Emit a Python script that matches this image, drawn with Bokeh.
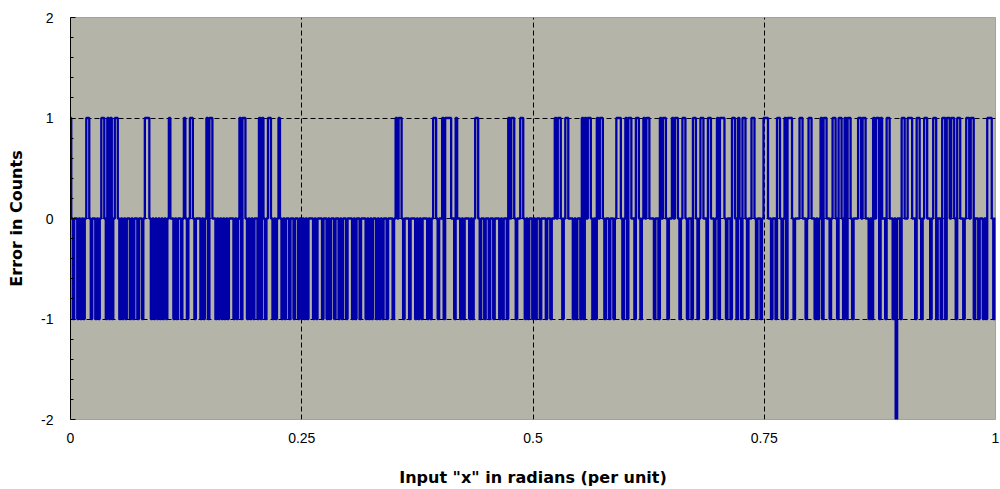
import numpy as np
from bokeh.plotting import figure
from bokeh.models import FixedTicker
from bokeh.embed import file_html
from bokeh.resources import INLINE

error_counts = [
    1, 0, -1, 0, 0, -1, 0, -1, 0, -1,
    0, 1, 1, 0, -1, 0, 0, -1, 0, -1,
    0, 1, 1, 0, -1, 1, -1, 1, -1, 0,
    1, 1, 0, -1, 0, -1, 0, -1, 0, 0,
    -1, 0, -1, 0, 0, -1, 0, 0, -1, 0,
    1, 1, 1, 0, -1, 0, -1, 0, -1, 0,
    -1, 0, -1, 0, -1, 0, 1, 0, 0, -1,
    0, -1, 0, 0, -1, 0, 1, 0, -1, 0,
    1, 1, 0, -1, 0, 0, 0, -1, 0, -1,
    0, 1, -1, 1, 1, 0, 0, -1, 0, -1,
    0, -1, 0, -1, 0, -1, 0, 0, 0, -1,
    0, -1, 0, 1, -1, 1, 1, 0, -1, 0,
    -1, 0, -1, 0, 0, -1, 1, -1, 1, 0,
    -1, 0, 1, 1, 0, -1, 0, -1, 0, 1,
    0, -1, 0, -1, 0, 0, -1, 0, 0, -1,
    0, 0, -1, 0, -1, 0, -1, 0, -1, 0,
    0, 0, -1, 0, -1, 0, 0, 0, -1, 0,
    0, -1, 0, -1, 0, 0, -1, 0, 0, -1,
    0, -1, 0, 0, -1, 0, 0, 0, -1, 0,
    -1, 0, 0, -1, 0, 0, 0, -1, 0, -1,
    0, -1, 0, 0, -1, 0, -1, 0, -1, 0,
    0, -1, 0, 0, 0, -1, 0, 1, 0, 1,
    1, 0, -1, 0, 0, 0, -1, 0, 0, 0,
    -1, 0, -1, 0, -1, 0, 0, 0, -1, 0,
    -1, 0, 1, 1, 0, -1, 0, 0, 1, -1,
    1, 1, 1, 1, 0, 0, -1, 1, 0, 0,
    -1, 0, -1, 0, 0, 0, -1, 0, -1, 0,
    1, 1, 0, -1, 0, 0, -1, 0, 0, -1,
    0, 0, -1, 0, 0, 0, -1, 0, -1, 0,
    0, -1, 1, 0, 1, 1, 0, -1, 0, 0,
    1, 1, 0, -1, 0, -1, 0, 0, -1, 0,
    -1, 0, 0, -1, 0, 0, 0, -1, 0, 0,
    -1, 0, 0, 1, 0, 1, 1, 0, -1, 0,
    1, 1, 0, 0, 0, -1, 0, -1, 0, 0,
    -1, 1, -1, 1, 0, 1, 1, 0, -1, 0,
    -1, 1, 0, 1, 1, 0, -1, 0, 0, -1,
    0, 0, -1, 0, 1, 1, 1, 0, -1, 0,
    1, -1, 1, 1, 0, 0, -1, 1, 1, 0,
    -1, 0, 1, 0, 1, 1, 0, 0, 0, -1,
    0, 0, -1, 1, 0, 1, 1, 0, -1, 0,
    0, 1, 0, 1, 1, 0, -1, 0, 1, 1,
    0, -1, 0, 0, -1, 1, 1, 0, -1, 0,
    1, 1, 0, 0, -1, 1, 1, 0, 0, -1,
    0, 1, -1, 1, 1, 1, 0, -1, 0, 0,
    -1, 1, 1, 0, -1, 1, 0, -1, 1, 1,
    0, -1, 0, 0, 1, 1, 0, -1, 0, 0,
    -1, 0, 1, 1, 1, 0, 0, -1, 0, 0,
    -1, 1, 1, 0, -1, 0, 1, -1, 1, 1,
    1, 0, -1, 0, 0, 0, 1, 1, 0, 0,
    -1, 0, 1, 1, 0, 0, -1, 0, -1, 0,
    1, -1, 1, 1, 0, 0, -1, 0, 1, 1,
    0, -1, 1, 1, 0, -1, 1, -1, 1, 1,
    0, -1, 0, 0, 0, 1, 1, 0, 1, 1,
    0, 0, -1, 0, -1, 1, 0, 1, 1, -1,
    1, 0, 0, -1, 1, 1, 0, 0, -1, 0,
    -2, 0, 0, -1, 1, 1, 0, 0, 1, 1,
    1, 0, 0, -1, 1, 1, 0, -1, 0, 1,
    1, 0, 0, -1, 0, 1, 1, -1, 0, 0,
    -1, 1, 1, -1, 1, 1, 0, 1, 1, 0,
    -1, 1, 1, 0, 0, -1, 0, 1, 1, 0,
    1, 1, -1, 0, 0, -1, 0, 0, -1, 0,
    -1, 1, 1, 1, 0, -1, 0,
]

x_ticks = [0, 0.25, 0.5, 0.75, 1]
x_tick_labels = ["0", "0.25", "0.5", "0.75", "1"]
y_ticks = [-2, -1, 0, 1, 2]
y_tick_labels = ["-2", "-1", "0", "1", "2"]

x_title = 'Input "x" in radians (per unit)'
y_title = "Error in Counts"

x_values = np.linspace(0.0, 1.0, len(error_counts))

p = figure(
    width=1000, height=489,
    x_range=(0, 1), y_range=(-2, 2),
    output_backend="svg", toolbar_location=None,
    min_border_left=70, min_border_right=5,
    min_border_top=17, min_border_bottom=69,
)

p.background_fill_color = "#B4B4A8"
p.border_fill_color = "white"
p.outline_line_color = "#9C9CC4"
p.outline_line_width = 1

# grid lines (dashed, black) at interior major ticks
p.xgrid.ticker = FixedTicker(ticks=[0.25, 0.5, 0.75])
p.ygrid.ticker = FixedTicker(ticks=[-1, 0, 1])
for g in (p.xgrid, p.ygrid):
    g.grid_line_color = "black"
    g.grid_line_dash = "5 3"
    g.grid_line_width = 1

p.step(x_values, error_counts, mode="center", line_color="#0000A8", line_width=2.3)

# x axis
xa = p.xaxis[0]
xa.ticker = FixedTicker(ticks=x_ticks)
xa.major_label_overrides = dict(zip(x_ticks, x_tick_labels))
xa.axis_line_color = None
xa.major_tick_line_color = None
xa.minor_tick_line_color = None
xa.major_label_standoff = 7
xa.major_label_text_font = "Liberation Sans"
xa.major_label_text_font_size = "14px"
xa.major_label_text_color = "black"
xa.axis_label = x_title
xa.axis_label_text_font = "DejaVu Sans"
xa.axis_label_text_font_style = "bold"
xa.axis_label_text_font_size = "16px"
xa.axis_label_text_color = "black"
xa.axis_label_standoff = 22

# y axis
ya = p.yaxis[0]
minor = [round(v * 0.2, 1) for v in range(-10, 11) if v % 5 != 0]
ya.ticker = FixedTicker(ticks=y_ticks, minor_ticks=minor)
ya.major_label_overrides = dict(zip(y_ticks, y_tick_labels))
ya.axis_line_color = "black"
ya.axis_line_width = 1
ya.major_tick_line_color = "black"
ya.major_tick_in = 5
ya.major_tick_out = 0
ya.minor_tick_line_color = "black"
ya.minor_tick_in = 3
ya.minor_tick_out = 0
ya.major_label_standoff = 17
ya.major_label_text_font = "Liberation Sans"
ya.major_label_text_font_size = "14px"
ya.major_label_text_color = "black"
ya.axis_label = y_title
ya.axis_label_text_font = "DejaVu Sans"
ya.axis_label_text_font_style = "bold"
ya.axis_label_text_font_size = "16px"
ya.axis_label_text_color = "black"
ya.axis_label_standoff = 12

open("out.html", "w").write(file_html(p, INLINE))
